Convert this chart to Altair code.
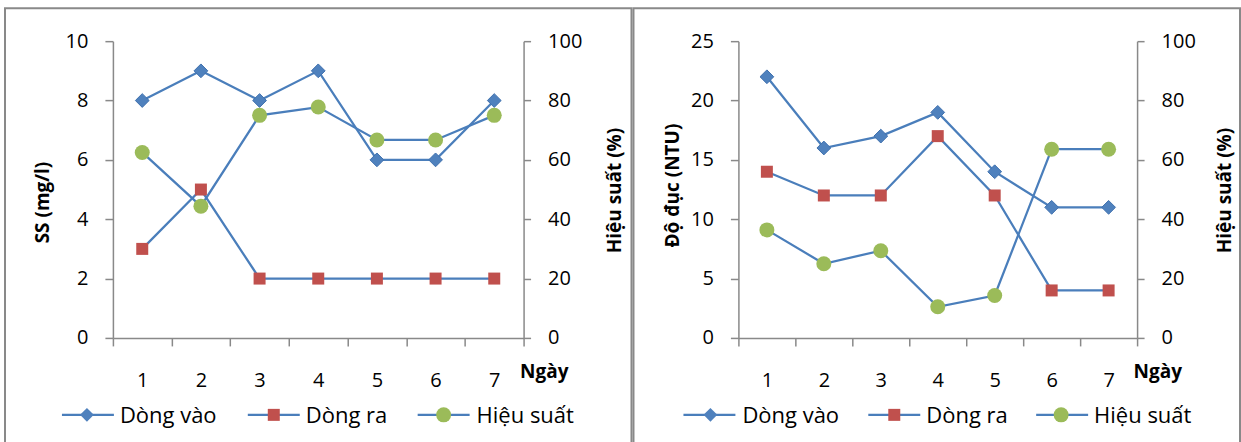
import altair as alt
import pandas as pd

# ---- data ----
days = [1, 2, 3, 4, 5, 6, 7]
series_names = ["Dòng vào", "Dòng ra", "Hiệu suất"]

ss_in = [8, 9, 8, 9, 6, 6, 8]
ss_out = [3, 5, 2, 2, 2, 2, 2]
ss_eff = [62.5, 44.4, 75.0, 77.8, 66.7, 66.7, 75.0]

tu_in = [22, 16, 17, 19, 14, 11, 11]
tu_out = [14, 12, 12, 17, 12, 4, 4]
tu_eff = [36.4, 25.0, 29.4, 10.5, 14.3, 63.6, 63.6]

# ---- styles ----
LINE = "#4A7EBB"
BLUE = "#4F81BD"
RED = "#C0504D"
GREEN = "#9BBB59"
GRAY = "#898989"
FONT = "Open Sans"
H = 297


def panel(v_in, v_out, v_eff, ytitle, ymax, ystep, width, geom):
    df = pd.DataFrame({"day": days, "vin": v_in, "vout": v_out, "eff": v_eff})
    base = alt.Chart(df)
    ticks = [d - 0.5 for d in days] + [days[-1] + 0.5]
    xaxis = alt.Axis(
        values=ticks,
        labelExpr="datum.value < 7 ? '' + (datum.value + 0.5) : ''",
        labelOffset=width / 14,
        labelFlush=False,
        labelOverlap=False,
        labelBound=False,
        tickSize=8,
        labelPadding=25,
        title="Ngày",
        titleX=geom["ngx"],
        titleY=40,
        titleAlign="left",
        titleBaseline="alphabetic",
        titleFontSize=19,
    )
    x = alt.X("day:Q", scale=alt.Scale(domain=[0.5, 7.5], nice=False, zero=False), axis=xaxis)
    laxis = alt.Axis(
        values=list(range(0, ymax + 1, ystep)),
        tickSize=8,
        labelPadding=17,
        title=ytitle,
        titleAngle=270,
        titleX=geom["ltx"],
        titleY=geom["lty"],
        titleAlign="center",
        titleBaseline="middle",
        titleFontSize=19,
    )
    raxis = alt.Axis(
        orient="right",
        values=list(range(0, 101, 20)),
        tickSize=7,
        labelPadding=17,
        title="Hiệu suất (%)",
        titleAngle=270,
        titleX=geom["rtx"],
        titleY=149,
        titleAlign="center",
        titleBaseline="middle",
        titleFontSize=19,
    )
    lscale = alt.Scale(domain=[0, ymax], nice=False)
    left = alt.layer(
        base.mark_line(color=LINE, strokeWidth=2.25).encode(x=x, y=alt.Y("vin:Q", scale=lscale, axis=laxis)),
        base.mark_point(shape="diamond", filled=True, size=190, color=BLUE, opacity=1,
                        stroke="#3F70AE", strokeWidth=1).encode(x=x, y=alt.Y("vin:Q", scale=lscale, axis=laxis)),
        base.mark_line(color=LINE, strokeWidth=2.25).encode(x=x, y=alt.Y("vout:Q", scale=lscale, axis=laxis)),
        base.mark_point(shape="square", filled=True, size=144, color=RED, opacity=1).encode(
            x=x, y=alt.Y("vout:Q", scale=lscale, axis=laxis)),
    )
    rscale = alt.Scale(domain=[0, 100], nice=False)
    right = alt.layer(
        base.mark_line(color=LINE, strokeWidth=2.25).encode(x=x, y=alt.Y("eff:Q", scale=rscale, axis=raxis)),
        base.mark_point(shape="circle", filled=True, size=225, color=GREEN, opacity=1).encode(
            x=x, y=alt.Y("eff:Q", scale=rscale, axis=raxis)),
    )
    one = alt.Chart(pd.DataFrame({"a": [0]}))
    frame = one.mark_rect(fillOpacity=0, stroke=GRAY, strokeWidth=2).encode(
        x=alt.value(geom["fx"]), x2=alt.value(geom["fx2"]), y=alt.value(-33), y2=alt.value(440))
    legend_layers = []
    shapes = [("diamond", BLUE, 190), ("square", RED, 144), ("circle", GREEN, 225)]
    for i, name in enumerate(series_names):
        lx0, mx, tx = geom["leg"][i]
        shp, col, sz = shapes[i]
        legend_layers.append(one.mark_rule(color=LINE, strokeWidth=2.25).encode(
            x=alt.value(lx0), x2=alt.value(lx0 + 52), y=alt.value(374)))
        legend_layers.append(one.mark_point(shape=shp, filled=True, size=sz, color=col, opacity=1).encode(
            x=alt.value(mx), y=alt.value(374)))
        legend_layers.append(one.mark_text(align="left", baseline="middle", font=FONT, fontSize=22,
                                           color="black").encode(
            x=alt.value(tx), y=alt.value(375), text=alt.value(name)))
    return alt.layer(frame, left, right, *legend_layers).resolve_scale(y="independent").properties(
        width=width, height=H)


g1 = {"ngx": 407, "ltx": -70, "lty": 161, "rtx": 91, "fx": -108, "fx2": 519,
      "leg": [(-51, -26, 7), (135, 161, 193), (305, 331, 364)]}
g2 = {"ngx": 395, "ltx": -66, "lty": 144, "rtx": 87, "fx": -105, "fx2": 502,
      "leg": [(-55, -28, 4), (130, 156, 188), (298, 323, 356)]}

p1 = panel(ss_in, ss_out, ss_eff, "SS (mg/l)", 10, 2, 411, g1)
p2 = panel(tu_in, tu_out, tu_eff, "Độ đục (NTU)", 25, 5, 399, g2)

chart = alt.hconcat(p1, p2, spacing=0).properties(
    padding={"left": 4, "top": 7, "right": 0, "bottom": 0},
    background="white",
).configure_view(stroke=None).configure_axis(
    grid=False,
    domainColor=GRAY,
    domainWidth=1.5,
    tickColor=GRAY,
    tickWidth=1.5,
    labelFont=FONT,
    labelFontSize=20,
    labelColor="black",
    titleFont=FONT,
    titleFontWeight="bold",
    titleColor="black",
)

chart.save("out.html", embed_options={"renderer": "svg", "actions": False})
